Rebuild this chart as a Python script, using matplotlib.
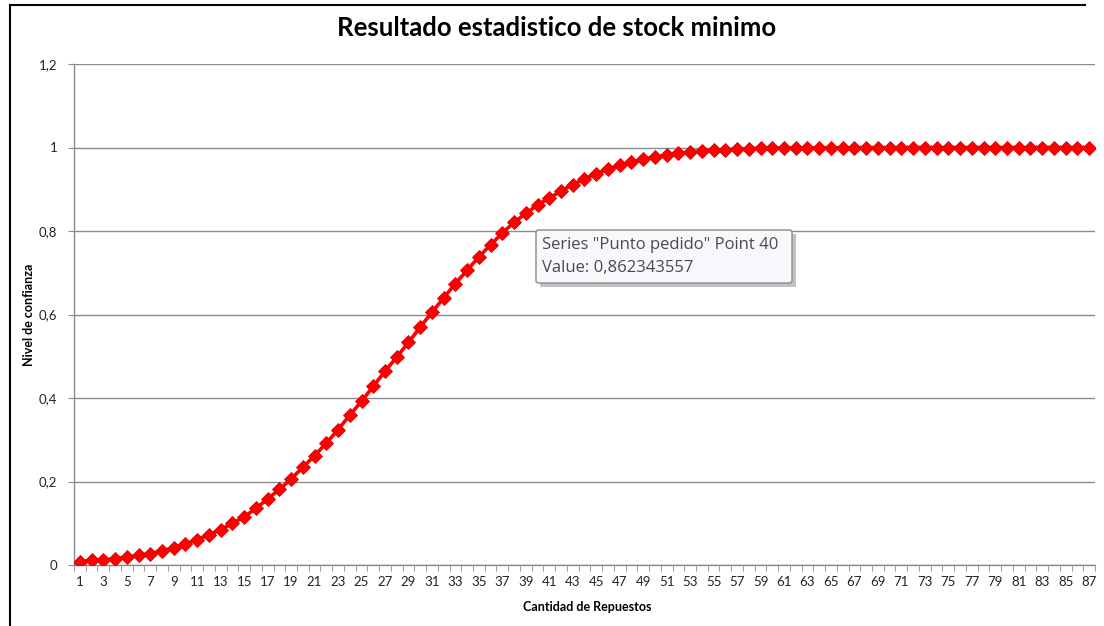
import matplotlib.pyplot as plt
from matplotlib.lines import Line2D
from matplotlib.patches import FancyBboxPatch, Rectangle

# Cantidad de repuestos (1..87) y nivel de confianza acumulado
cantidades = list(range(1, 88))
nivel_confianza = [
    0.008, 0.011, 0.012, 0.015, 0.018, 0.023, 0.027, 0.034, 0.041, 0.050,
    0.061, 0.072, 0.085, 0.100, 0.115, 0.136, 0.158, 0.181, 0.206, 0.234,
    0.262, 0.292, 0.324, 0.359, 0.392, 0.428, 0.464, 0.498, 0.533, 0.570,
    0.605, 0.640, 0.674, 0.706, 0.738, 0.767, 0.795, 0.821, 0.842, 0.862343557,
    0.879, 0.896, 0.911, 0.925, 0.937, 0.948, 0.957, 0.965, 0.972, 0.977,
    0.982, 0.986, 0.989, 0.992, 0.994, 0.995, 0.996, 0.997, 0.998, 0.998,
    0.999, 0.999, 0.999, 0.999, 0.999, 0.9995, 0.9996, 0.9997, 0.9998, 0.9998,
    0.9999, 0.9999, 0.9999, 0.9999, 0.9999, 1.0, 1.0, 1.0, 1.0, 1.0,
    1.0, 1.0, 1.0, 1.0, 1.0, 1.0, 1.0,
]
y_ticks = [0, 0.2, 0.4, 0.6, 0.8, 1.0, 1.2]
y_tick_labels = ["0", "0,2", "0,4", "0,6", "0,8", "1", "1,2"]
x_tick_labels = [str(c) for c in cantidades[::2]]

serie = "Punto pedido"
punto_sel = 40

plt.rcParams['font.family'] = ['Lato', 'DejaVu Sans']

fig = plt.figure(figsize=(11.04, 6.26), dpi=100)
W, H = 1104, 626
ax = fig.add_axes([74 / W, 1 - 565 / H, (1095 - 74) / W, (565 - 64) / H])

ax.plot(cantidades, nivel_confianza, color='#ff0000', lw=2.6,
        marker='D', markersize=7.5, markerfacecolor='#ff0000',
        markeredgecolor='#e00000', markeredgewidth=0.6, zorder=3)

ax.set_xlim(0.5, 87.5)
ax.set_ylim(0, 1.2)
ax.set_yticks(y_ticks)
ax.set_yticklabels(y_tick_labels)
ax.set_xticks(cantidades[::2])
ax.set_xticklabels(x_tick_labels)
ax.set_xticks([c + 0.5 for c in range(0, 88)], minor=True)

ax.grid(axis='y', color='#8c8c8c', lw=1.0)
ax.set_axisbelow(True)
for s in ['top', 'right']:
    ax.spines[s].set_visible(False)
for s in ['left', 'bottom']:
    ax.spines[s].set_color('#8c8c8c')
    ax.spines[s].set_linewidth(1.0)

ax.tick_params(axis='x', which='major', length=0, pad=8, labelsize=9.5,
               colors='#222222')
ax.tick_params(axis='x', which='minor', length=4, color='#8c8c8c', direction='out')
ax.tick_params(axis='y', length=4, color='#8c8c8c', pad=8, labelsize=9.5,
               labelcolor='#222222')

ax.set_xlabel("Cantidad de Repuestos", fontsize=9, fontweight='bold')
ax.set_ylabel("Nivel de confianza", fontsize=9, fontweight='bold')
ax.xaxis.set_label_coords((587 - 74) / (1095 - 74), -(607 - 565) / (565 - 64))
ax.yaxis.set_label_coords(-(74 - 29) / (1095 - 74), 0.5)
ax.xaxis.label.set_va('center')
ax.yaxis.label.set_va('center')

fig.text(557 / W, 1 - 28 / H, "Resultado estadistico de stock minimo",
         ha='center', va='center', fontsize=18.5, fontweight='bold')

# Marco exterior (superior e izquierdo)
fig.add_artist(Line2D([10 / W, 1085 / W], [1 - 5 / H, 1 - 5 / H],
                      transform=fig.transFigure, color='black', lw=1.5))
fig.add_artist(Line2D([10 / W, 10 / W], [1 - 5 / H, 0],
                      transform=fig.transFigure, color='black', lw=1.5))

# Recuadro de información del punto seleccionado
bx0, by0, bx1, by1 = 536, 230, 792, 283
shadow = Rectangle(((bx0 + 4) / W, 1 - (by1 + 4) / H), (bx1 - bx0) / W,
                   (by1 - by0) / H, transform=fig.transFigure,
                   facecolor='#9a9a9a', edgecolor='none', alpha=0.6, zorder=9)
box = FancyBboxPatch((bx0 / W, 1 - by1 / H), (bx1 - bx0) / W, (by1 - by0) / H,
                     boxstyle='round,pad=0,rounding_size=0.003',
                     transform=fig.transFigure, facecolor='#f7f8fb',
                     edgecolor='#8a8a8a', lw=1.0, zorder=10)
fig.add_artist(shadow)
fig.add_artist(box)
fig.text(542 / W, 1 - 245 / H, f'Series "{serie}" Point {punto_sel}',
         ha='left', va='center', fontsize=12, color='#4a4a4a', zorder=11,
         family=['Open Sans', 'DejaVu Sans'])
fig.text(542 / W, 1 - 268 / H,
         "Value: " + f"{nivel_confianza[punto_sel - 1]:.9f}".replace('.', ','),
         ha='left', va='center', fontsize=12, color='#4a4a4a', zorder=11,
         family=['Open Sans', 'DejaVu Sans'])

fig.savefig("out.png", dpi=100, facecolor='white')
